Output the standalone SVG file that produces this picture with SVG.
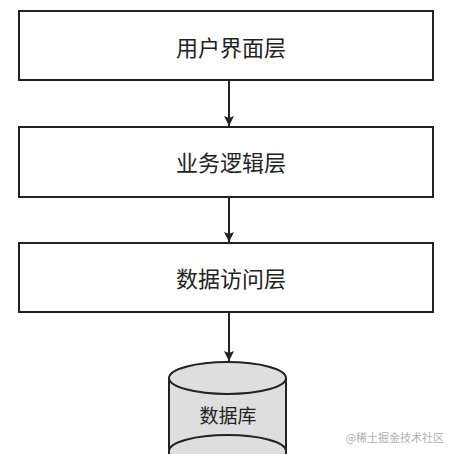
<svg xmlns="http://www.w3.org/2000/svg" width="455" height="454" viewBox="0 0 455 454">
<style>
.box{fill:#fff;stroke:#222;stroke-width:2}
.lbl{font-family:"Noto Sans CJK SC","Noto Sans",sans-serif;font-size:22px;fill:#222;text-anchor:middle;dominant-baseline:central}
.conn{stroke:#222;stroke-width:2;fill:none;marker-end:url(#ah)}
.cyl{fill:#dedede;stroke:#222;stroke-width:2}
.wm{font-family:"Noto Sans CJK SC",sans-serif;font-size:11px;fill:#b0b0b0;text-anchor:end;dominant-baseline:central}
</style>
<defs>
<marker id="ah" viewBox="0 0 10 10" refX="10" refY="5" markerWidth="5" markerHeight="5" orient="auto" markerUnits="strokeWidth">
<path d="M0,0 L10,5 L0,10 L2,5 Z" fill="#222"/>
</marker>
</defs>
<rect width="455" height="454" fill="#fff"/>
<g id="ui">
<rect class="box" x="19" y="11" width="414" height="69"/>
<text class="lbl" x="231" y="46">用户界面层</text>
</g>
<g id="biz">
<rect class="box" x="19" y="127" width="414" height="70"/>
<text class="lbl" x="231" y="161">业务逻辑层</text>
</g>
<g id="dal">
<rect class="box" x="19" y="243" width="414" height="69"/>
<text class="lbl" x="231" y="277">数据访问层</text>
</g>
<g id="db">
<path class="cyl" d="M169,378 L169,460 L286,460 L286,378"/>
<ellipse class="cyl" cx="227.5" cy="378" rx="58.5" ry="16"/>
<path class="cyl" d="M169,451 A58.5,16 0 0 1 286,451" fill="none"/>
<text class="lbl" x="228" y="414" style="font-size:19px">数据库</text>
</g>
<g id="connectors">
<line class="conn" x1="229" y1="81" x2="229" y2="126"/>
<line class="conn" x1="229" y1="198" x2="229" y2="242"/>
<line class="conn" x1="229" y1="313" x2="229" y2="361"/>
</g>
<text class="wm" x="444" y="437">@稀土掘金技术社区</text>
</svg>
